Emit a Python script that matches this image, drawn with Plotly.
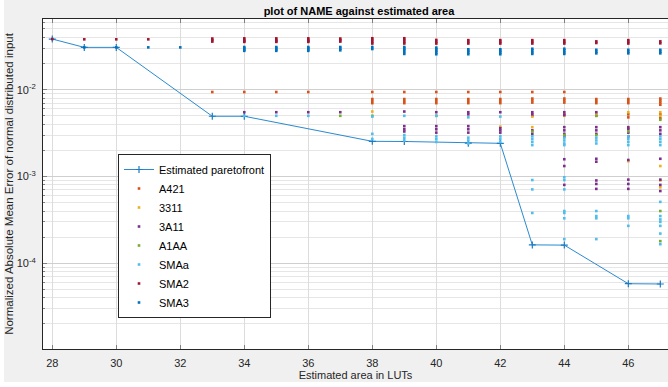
import plotly.graph_objects as go

# ---------------- data ----------------
pareto_x = [28, 29, 30, 33, 34, 38, 39, 41, 42, 43, 44, 46, 47]
pareto_y = [0.0383, 0.0307, 0.0307, 0.00494, 0.00494, 0.00254, 0.00253, 0.00242, 0.00241,
            0.000163, 0.000162, 5.82e-5, 5.78e-5]

a421_x = [33, 34, 35, 36,
          38, 38, 38, 38, 39, 39, 39, 39, 40, 40, 40, 40, 41, 41, 41, 41,
          42, 42, 42, 42, 43, 43, 43, 43, 43, 44, 44, 44, 44, 44,
          45, 45, 45, 45, 46, 46, 46, 46, 46, 47, 47, 47, 47, 47, 47]
a421_y = [0.0094, 0.0094, 0.0094, 0.0094,
          0.0094, 0.0078, 0.0074, 0.0070, 0.0094, 0.0078, 0.0074, 0.0070,
          0.0094, 0.0078, 0.0074, 0.0070, 0.0094, 0.0078, 0.0074, 0.0070,
          0.0094, 0.0078, 0.0074, 0.0070, 0.0094, 0.0079, 0.0075, 0.0071, 0.0050,
          0.0094, 0.0079, 0.0075, 0.0071, 0.0052,
          0.0078, 0.0074, 0.0070, 0.0050, 0.0078, 0.0074, 0.0070, 0.0052, 0.0048,
          0.0079, 0.0075, 0.0071, 0.0067, 0.0052, 0.0047]

s3311_x = [38, 42, 43, 43, 44, 45, 46, 46, 46, 47, 47, 47, 47, 47]
s3311_y = [0.0056, 0.00375, 0.0037, 0.0049, 0.0050, 0.0053, 0.0055, 0.0036, 0.00150,
           0.0055, 0.0050, 0.00132, 0.00090, 0.00075]

s3a11_x = [34, 35, 36, 37,
           39, 39, 39, 39, 40, 40, 40, 40, 41, 41, 41, 41, 41,
           42, 42, 42, 42, 43, 43, 43, 43,
           44, 44, 44, 44, 44, 44, 44, 44, 44,
           45, 45, 45, 45, 45, 45, 45, 45, 45,
           46, 46, 46, 46, 46, 46, 46, 46,
           47, 47, 47, 47, 47, 47, 47]
s3a11_y = [0.0055, 0.0055, 0.0055, 0.0055,
           0.0056, 0.0038, 0.0035, 0.0033, 0.0055, 0.0038, 0.0035, 0.0032,
           0.0055, 0.0052, 0.0038, 0.0035, 0.0032,
           0.0055, 0.0036, 0.0034, 0.0032, 0.0055, 0.0052, 0.0034, 0.0031,
           0.0055, 0.0051, 0.0037, 0.0034, 0.0031, 0.0029, 0.00158, 0.00132, 0.00080,
           0.0055, 0.0037, 0.0034, 0.0031, 0.00160, 0.00148, 0.00090, 0.00082, 0.00072,
           0.0037, 0.0035, 0.0032, 0.0029, 0.00155, 0.00092, 0.00082, 0.00072,
           0.0037, 0.0034, 0.0031, 0.00160, 0.00092, 0.00080, 0.00068]

a1aa_x = [37, 38, 40, 43, 44, 45, 45, 46, 47, 47, 47]
a1aa_y = [0.0050, 0.0050, 0.0050, 0.0033, 0.0030, 0.0050, 0.0030, 0.0033, 0.0045,
          0.00040, 0.00018]

smaa_x = [34, 35, 36,
          38, 38, 38, 39, 39, 39, 39, 40, 40, 40, 40, 41, 41, 41, 41,
          42, 42, 42, 42, 43, 43, 43, 43, 43, 43, 43,
          44, 44, 44, 44, 44, 44, 44, 44, 44, 44, 44,
          45, 45, 45, 45, 45, 45, 45,
          46, 46, 46, 46, 46, 46, 46,
          47, 47, 47, 47, 47, 47, 47, 47, 47, 47, 47]
smaa_y = [0.0050, 0.0050, 0.0050,
          0.0049, 0.0031, 0.0027, 0.0050, 0.0030, 0.0028, 0.0026,
          0.0050, 0.0029, 0.0027, 0.0025, 0.0048, 0.0028, 0.0026, 0.0024,
          0.0049, 0.0029, 0.0027, 0.0025,
          0.0029, 0.0027, 0.0025, 0.0023, 0.00091, 0.00071, 0.00038,
          0.0028, 0.0026, 0.0024, 0.0023, 0.00098, 0.00091, 0.00071, 0.00040, 0.00038,
          0.00033, 0.00019,
          0.0028, 0.0026, 0.0024, 0.00040, 0.00035, 0.00033, 0.00019,
          0.0029, 0.0027, 0.0025, 0.0023, 0.00035, 0.00033, 0.00027,
          0.0029, 0.0027, 0.0025, 0.0023, 0.00051, 0.00035, 0.00032, 0.00030, 0.00027,
          0.00022, 0.000166]

sma2_x = [28, 29, 30, 31,
          33, 33, 33, 34, 34, 34, 34, 35, 35, 35, 35, 36, 36, 36, 36, 37, 37, 37,
          38, 38, 38, 38, 39, 39, 39, 39,
          40, 40, 40, 41, 41, 41, 42, 42, 42, 43, 43, 43, 44, 44, 44,
          45, 45, 46, 46, 46, 47, 47]
sma2_y = [0.0383, 0.0380, 0.0380, 0.0380,
          0.0388, 0.0372, 0.0358, 0.0390, 0.0375, 0.0362, 0.0355,
          0.0390, 0.0375, 0.0362, 0.0355, 0.0390, 0.0375, 0.0362, 0.0355,
          0.0388, 0.0372, 0.0358,
          0.0391, 0.0374, 0.0355, 0.0340, 0.0391, 0.0374, 0.0355, 0.0340,
          0.0374, 0.0355, 0.0340, 0.0372, 0.0355, 0.0340, 0.0372, 0.0355, 0.0340,
          0.0372, 0.0355, 0.0340, 0.0372, 0.0355, 0.0340,
          0.0360, 0.0345, 0.0372, 0.0355, 0.0340, 0.0360, 0.0342]

sma3_x = [29, 30, 31, 32,
          34, 34, 34, 34, 35, 35, 35, 35, 36, 36, 36, 36, 37, 37, 37,
          38, 38, 39, 39, 39, 39, 39, 40, 40, 40, 40, 40,
          41, 41, 41, 41, 42, 42, 42, 42, 43, 43, 43, 43,
          44, 44, 44, 44, 45, 45, 45, 46, 46, 46, 47, 47, 47]
sma3_y = [0.0307, 0.0307, 0.0307, 0.0307,
          0.0310, 0.0300, 0.0290, 0.0280, 0.0310, 0.0300, 0.0290, 0.0280,
          0.0310, 0.0300, 0.0290, 0.0280, 0.0310, 0.0297, 0.0284,
          0.0310, 0.0294, 0.0310, 0.0298, 0.0286, 0.0272, 0.0258,
          0.0305, 0.0292, 0.0280, 0.0268, 0.0256,
          0.0292, 0.0280, 0.0268, 0.0256, 0.0292, 0.0280, 0.0268, 0.0256,
          0.0296, 0.0284, 0.0270, 0.0258,
          0.0296, 0.0284, 0.0270, 0.0258, 0.0288, 0.0274, 0.0262,
          0.0288, 0.0274, 0.0262, 0.0288, 0.0274, 0.0262]

series = [
    ("A421", a421_x, a421_y, "#D95319"),
    ("3311", s3311_x, s3311_y, "#EDB120"),
    ("3A11", s3a11_x, s3a11_y, "#7E2F8E"),
    ("A1AA", a1aa_x, a1aa_y, "#77AC30"),
    ("SMAa", smaa_x, smaa_y, "#4DBEEE"),
    ("SMA2", sma2_x, sma2_y, "#A2142F"),
    ("SMA3", sma3_x, sma3_y, "#0072BD"),
]

FONT = "Liberation Sans, Arial, Helvetica, sans-serif"
W, H = 668, 387
ML, MR, MT, MB = 43, 0, 19, 38
PW, PH = W - ML - MR, H - MT - MB

fig = go.Figure()
fig.add_trace(go.Scatter(
    x=pareto_x, y=pareto_y, mode="lines+markers", name="Estimated paretofront",
    line=dict(color="#2A8AD0", width=1),
    marker=dict(symbol="cross-thin", size=5, line=dict(color="#1A7CC4", width=1.2)),
))
for name, xs, ys, col in series:
    fig.add_trace(go.Scatter(
        x=xs, y=ys, mode="markers", name=name,
        marker=dict(symbol="square", size=2.6, color=col, line=dict(width=0)),
    ))

minor_vals = [k * 10 ** e for e in range(-5, -1) for k in range(2, 10)]

fig.update_layout(
    width=W, height=H,
    margin=dict(l=ML, r=MR, t=MT, b=MB, pad=0),
    paper_bgcolor="#F0F0F0", plot_bgcolor="white",
    font=dict(family=FONT, size=11, color="#262626"),
    title=dict(text="<b>plot of NAME against estimated area</b>", x=359 / W, xref="container",
               xanchor="center", y=1 - 11 / H, yref="container", yanchor="middle",
               font=dict(size=11, color="#000000")),
    showlegend=True,
    legend=dict(x=(118 - ML) / PW, y=(H - MB - 236) / PH, xanchor="left", yanchor="middle",
                bgcolor="white", bordercolor="#262626", borderwidth=1,
                font=dict(size=11, color="#000000"), tracegroupgap=0,
                itemsizing="trace", itemwidth=30),
    xaxis=dict(
        range=[27.71, 47.24], tickvals=[28, 30, 32, 34, 36, 38, 40, 42, 44, 46],
        ticks="inside", ticklen=4, tickcolor="#808080", mirror="ticks",
        showline=True, linecolor="#262626", linewidth=1,
        showgrid=True, gridcolor="#DCDCDC", gridwidth=1, zeroline=False,
        ticklabelstandoff=4,
        title=dict(text="Estimated area in LUTs", standoff=3, font=dict(size=11)),
        tickfont=dict(size=11),
    ),
    yaxis=dict(
        type="log", range=[-4.987, -1.186],
        tickvals=[1e-4, 1e-3, 1e-2],
        ticktext=["10<sup>-4</sup>", "10<sup>-3</sup>", "10<sup>-2</sup>"],
        ticks="inside", ticklen=4, tickcolor="#808080",
        showline=True, linecolor="#262626", linewidth=1,
        showgrid=True, gridcolor="#CFCFCF", gridwidth=1, zeroline=False,
        ticklabelstandoff=4,
        minor=dict(tickmode="array", tickvals=minor_vals, ticks="inside", ticklen=2,
                   tickcolor="#808080", showgrid=True, gridcolor="#E6E6E6", gridwidth=1),
        title=dict(text="Normalized Absolute Mean Error of normal distributed input",
                   standoff=0, font=dict(size=11.5)),
        tickfont=dict(size=11),
    ),
    shapes=[
        dict(type="rect", xref="paper", yref="paper", x0=-ML / PW, x1=(4 - ML) / PW,
             y0=-MB / PH, y1=(H - MB) / PH, fillcolor="white", line=dict(width=0), layer="below"),
        dict(type="rect", xref="paper", yref="paper", x0=-ML / PW, x1=1.0,
             y0=-MB / PH, y1=-(382 - (H - MB)) / PH, fillcolor="white", line=dict(width=0),
             layer="below"),
    ],
)

fig.write_html("out.html")
